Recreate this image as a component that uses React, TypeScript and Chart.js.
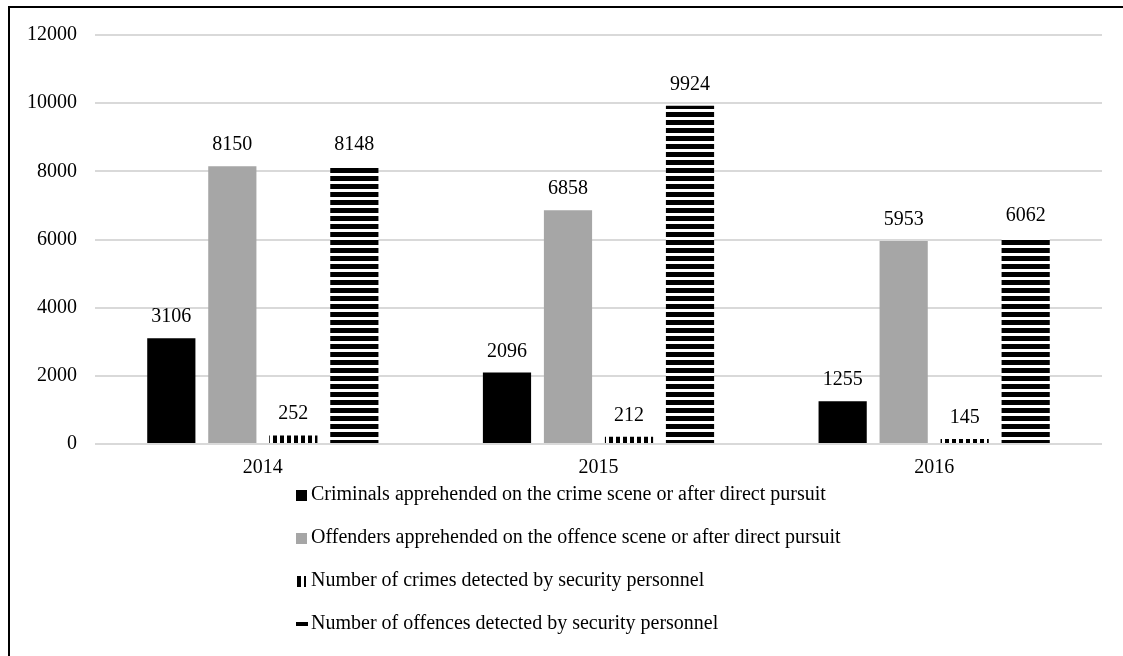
import React, { useEffect, useRef } from "react";
import { Chart, registerables } from "chart.js";

Chart.register(...registerables);

const categories = ["2014", "2015", "2016"];
const criminalsApprehended = [3106, 2096, 1255];
const offendersApprehended = [8150, 6858, 5953];
const crimesDetected = [252, 212, 145];
const offencesDetected = [8148, 9924, 6062];
const seriesLabels = [
  "Criminals apprehended on the crime scene or after direct pursuit",
  "Offenders apprehended on the offence scene or after direct pursuit",
  "Number of crimes detected by security personnel",
  "Number of offences detected by security personnel",
];
const yMin = 0;
const yMax = 12000;
const yStep = 2000;

const FONT = '"Liberation Serif", "Times New Roman", serif';

function makeVerticalStripes(): CanvasPattern | string {
  const c = document.createElement("canvas");
  c.width = 7;
  c.height = 7;
  const g = c.getContext("2d");
  if (!g) return "#000";
  g.fillStyle = "#fff";
  g.fillRect(0, 0, 7, 7);
  g.fillStyle = "#000";
  g.fillRect(0, 0, 4, 7);
  const ctx = document.createElement("canvas").getContext("2d");
  return (ctx && ctx.createPattern(c, "repeat")) || "#000";
}

function makeHorizontalStripes(): CanvasPattern | string {
  const c = document.createElement("canvas");
  c.width = 8;
  c.height = 8;
  const g = c.getContext("2d");
  if (!g) return "#000";
  g.fillStyle = "#fff";
  g.fillRect(0, 0, 8, 8);
  g.fillStyle = "#000";
  g.fillRect(0, 0, 8, 5);
  const ctx = document.createElement("canvas").getContext("2d");
  return (ctx && ctx.createPattern(c, "repeat")) || "#000";
}

const valueLabelsPlugin = {
  id: "valueLabels",
  afterDatasetsDraw(chart: any) {
    const ctx = chart.ctx;
    ctx.save();
    ctx.font = `20px ${FONT}`;
    ctx.fillStyle = "#000";
    ctx.textAlign = "center";
    ctx.textBaseline = "alphabetic";
    chart.data.datasets.forEach((ds: any, di: number) => {
      const meta = chart.getDatasetMeta(di);
      meta.data.forEach((bar: any, i: number) => {
        ctx.fillText(String(ds.data[i]), bar.x, bar.y - 16);
      });
    });
    ctx.restore();
  },
};

const customLegendPlugin = {
  id: "customLegend",
  afterDraw(chart: any) {
    const ctx = chart.ctx;
    const x0 = 296;
    const textX = 311;
    const y0 = 495;
    const gap = 43;
    ctx.save();
    ctx.font = `20px ${FONT}`;
    ctx.textAlign = "left";
    ctx.textBaseline = "middle";
    seriesLabels.forEach((label, i) => {
      const cy = y0 + gap * i;
      const top = Math.round(cy - 5.5);
      if (i === 0) {
        ctx.fillStyle = "#000";
        ctx.fillRect(x0, top, 11, 11);
      } else if (i === 1) {
        ctx.fillStyle = "#a6a6a6";
        ctx.fillRect(x0, top, 11, 11);
      } else if (i === 2) {
        ctx.fillStyle = "#000";
        ctx.fillRect(x0 + 1, top, 4, 11);
        ctx.fillRect(x0 + 8, top, 2, 11);
      } else {
        ctx.fillStyle = "#000";
        ctx.fillRect(x0, Math.round(cy - 2), 12, 4);
      }
      ctx.fillStyle = "#000";
      ctx.fillText(label, textX, cy);
    });
    ctx.restore();
  },
};

export default function App() {
  const canvasRef = useRef<HTMLCanvasElement | null>(null);

  useEffect(() => {
    if (!canvasRef.current) return;
    const vStripes = makeVerticalStripes();
    const hStripes = makeHorizontalStripes();
    const common = {
      categoryPercentage: 0.727,
      barPercentage: 0.79,
      borderWidth: 0,
    };
    const chart = new Chart(canvasRef.current, {
      type: "bar",
      data: {
        labels: categories,
        datasets: [
          { label: seriesLabels[0], data: criminalsApprehended, backgroundColor: "#000000", ...common },
          { label: seriesLabels[1], data: offendersApprehended, backgroundColor: "#a6a6a6", ...common },
          { label: seriesLabels[2], data: crimesDetected, backgroundColor: vStripes as any, ...common },
          { label: seriesLabels[3], data: offencesDetected, backgroundColor: hStripes as any, ...common },
        ],
      },
      options: {
        animation: false,
        responsive: false,
        maintainAspectRatio: false,
        layout: { padding: { left: 10, top: 35, right: 21, bottom: 172 } },
        plugins: {
          legend: { display: false },
          tooltip: { enabled: false },
          title: { display: false },
        },
        scales: {
          x: {
            grid: { display: false, drawTicks: false },
            border: { display: false },
            ticks: { color: "#000", font: { family: FONT, size: 20 }, padding: 12 },
            afterFit(scale: any) {
              scale.height = 40;
            },
          },
          y: {
            min: yMin,
            max: yMax,
            grid: { color: "#d9d9d9", lineWidth: 2, drawTicks: false },
            border: { display: false },
            ticks: {
              stepSize: yStep,
              color: "#000",
              font: { family: FONT, size: 20 },
              padding: 18,
              callback: (v: any) => String(v),
            },
            afterFit(scale: any) {
              scale.width = 85;
            },
          },
        },
      },
      plugins: [valueLabelsPlugin, customLegendPlugin],
    });
    return () => chart.destroy();
  }, []);

  return (
    <div
      style={{
        position: "fixed",
        left: 0,
        top: 0,
        width: 1123,
        height: 656,
        overflow: "hidden",
        background: "#fff",
      }}
    >
      <div
        style={{
          position: "absolute",
          left: 8,
          top: 6,
          width: 1200,
          height: 700,
          border: "2px solid #000",
          boxSizing: "border-box",
        }}
      />
      <canvas
        ref={canvasRef}
        width={1123}
        height={656}
        style={{ position: "absolute", left: 0, top: 0, width: 1123, height: 656 }}
      />
    </div>
  );
}
